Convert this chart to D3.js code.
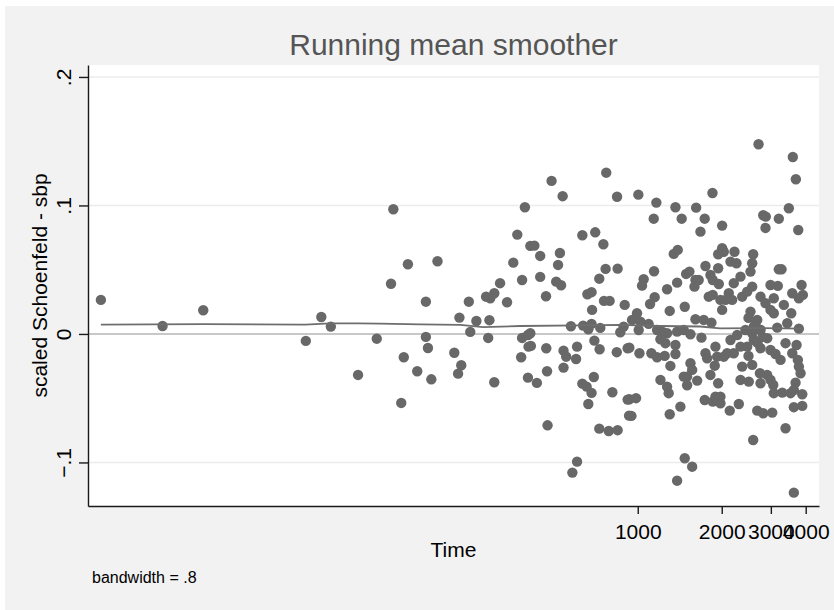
<!DOCTYPE html>
<meta charset="utf-8">
<style>
body { margin: 0; background: #ffffff; }
svg { display: block; font-family: Arial, "Liberation Sans", sans-serif; }
.axis path, .axis line { stroke: #1a1a1a; stroke-width: 1.4px; }
.axis text { font-size: 21px; fill: #000; font-family: Arial, "Liberation Sans", sans-serif; }
</style>
<svg width="834" height="610"></svg>
<script src="https://cdn.jsdelivr.net/npm/d3@7"></script>
<script>

// analysis time (days) and scaled Schoenfeld residuals for sbp
const times = [
  11.9, 19.8, 27.7, 64.6, 73.4, 79.4, 99.4, 116, 133, 130.5,
  150, 191.5, 174, 229.5, 248, 264, 251, 174, 177, 145,
  162, 182, 142, 220, 233, 227, 286, 296, 306, 294,
  321, 340, 291, 306, 370, 358, 385, 394, 412, 385,
  404, 406, 382, 404, 771, 491, 538, 843, 426, 447,
  526, 518, 633, 704, 753, 767, 847, 728, 447, 510,
  531, 469, 660, 683, 686, 757, 793, 898, 576, 637,
  665, 683, 734, 866, 890, 414, 470, 542, 554, 601,
  606, 699, 730, 841, 920, 435, 473, 542, 633, 656,
  683, 696, 665, 811, 920, 931, 475, 728, 787, 847,
  606, 583, 412, 1005, 1853, 1166, 1365, 1619, 1141, 1437,
  1738, 1678, 2007, 1346, 1391, 1144, 1050, 1036, 1491, 1532,
  1610, 1654, 1597, 1749, 1822, 1857, 1952, 1942, 2007, 1942,
  1384, 1274, 1150, 1107, 1797, 1857, 1979, 2007, 1474, 1302,
  994, 954, 1022, 1094, 1008, 1173, 1223, 1274, 1206, 1256,
  1384, 1462, 1545, 1365, 1365, 1610, 1724, 1837, 1692, 933,
  1014, 1119, 1173, 1249, 1309, 1545, 1567, 1503, 1462, 1633,
  1503, 1749, 1773, 1899, 1926, 1888, 1822, 1942, 1206, 1274,
  1291, 933, 986, 949, 1302, 1422, 1738, 1857, 1952, 1899,
  1474, 1567, 1384, 2710, 3597, 3688, 3480, 2817, 2878, 3204,
  2871, 3761, 2034, 2222, 2150, 2259, 2593, 2572, 2536, 3204,
  3277, 2335, 2209, 2120, 2063, 2180, 2368, 2468, 2572, 2992,
  3178, 2755, 2871, 3074, 2992, 3340, 3550, 3074, 3866, 3580,
  3781, 3907, 2536, 2681, 2606, 2755, 3162, 3435, 3781, 2272,
  2150, 2335, 2468, 2572, 2606, 2755, 2911, 2992, 3387, 3709,
  3580, 3118, 3250, 3749, 3781, 2034, 2092, 2209, 2368, 2572,
  2335, 2501, 2741, 2755, 2911, 2992, 3060, 3834, 3679, 3627,
  3074, 3296, 3530, 3888, 1979, 1979, 2137, 2303, 2681, 2817,
  3035, 3627, 3888, 3387, 2593, 3627, 2495, 2643, 2800, 2495,
  2687, 2433
];
const residuals = [
  0.0265, 0.0062, 0.0184, -0.0054, 0.0132, 0.0057, -0.0319, -0.0037, 0.0970, 0.0391,
  0.0542, 0.0566, 0.0251, 0.0127, 0.0251, 0.0101, 0.0016, -0.0023, -0.0109, -0.0181,
  -0.0290, -0.0353, -0.0537, -0.0146, -0.0244, -0.0309, 0.0290, 0.0278, 0.0317, 0.0107,
  0.0395, 0.0247, -0.0031, -0.0376, 0.0773, 0.0555, 0.0420, 0.0986, 0.0685, -0.0031,
  -0.0008, -0.0099, -0.0181, -0.0340, 0.1255, 0.1191, 0.1072, 0.1068, 0.0687, 0.0607,
  0.0630, 0.0537, 0.0768, 0.0791, 0.0698, 0.0506, 0.0508, 0.0430, 0.0444, 0.0407,
  0.0379, 0.0293, 0.0309, 0.0325, 0.0187, 0.0257, 0.0257, 0.0226, 0.0060, 0.0065,
  0.0036, 0.0078, 0.0047, 0.0013, 0.0057, -0.0093, -0.0111, -0.0130, -0.0177, -0.0195,
  -0.0099, -0.0052, -0.0119, -0.0142, -0.0111, -0.0381, -0.0290, -0.0262, -0.0387, -0.0410,
  -0.0459, -0.0335, -0.0545, -0.0454, -0.0511, -0.0636, -0.0711, -0.0737, -0.0755, -0.0749,
  -0.0994, -0.1079, 0.0005, 0.1084, 0.1097, 0.1022, 0.0986, 0.0983, 0.0897, 0.0897,
  0.0897, 0.0796, 0.0843, 0.0623, 0.0654, 0.0488, 0.0426, 0.0376, 0.0467, 0.0485,
  0.0420, 0.0420, 0.0368, 0.0529, 0.0459, 0.0420, 0.0389, 0.0620, 0.0667, 0.0511,
  0.0399, 0.0348, 0.0286, 0.0233, 0.0290, 0.0304, 0.0265, 0.0187, 0.0212, 0.0179,
  0.0161, 0.0109, 0.0096, 0.0078, 0.0031, 0.0031, 0.0018, 0.0005, -0.0041, -0.0072,
  0.0018, 0.0031, -0.0002, -0.0086, -0.0156, 0.0114, 0.0109, 0.0088, -0.0029, -0.0107,
  -0.0150, -0.0150, -0.0181, -0.0171, -0.0249, -0.0228, -0.0280, -0.0332, -0.0332, -0.0363,
  -0.0399, -0.0150, -0.0189, -0.0099, -0.0177, -0.0247, -0.0319, -0.0384, -0.0358, -0.0410,
  -0.0461, -0.0508, -0.0500, -0.0638, -0.0625, -0.0566, -0.0514, -0.0527, -0.0514, -0.0488,
  -0.0967, -0.1033, -0.1142, 0.1476, 0.1377, 0.1204, 0.0978, 0.0924, 0.0913, 0.0897,
  0.0825, 0.0809, 0.0640, 0.0640, 0.0563, 0.0550, 0.0620, 0.0550, 0.0485, 0.0503,
  0.0503, 0.0446, 0.0395, 0.0317, 0.0265, 0.0265, 0.0290, 0.0329, 0.0368, 0.0381,
  0.0374, 0.0290, 0.0239, 0.0278, 0.0187, 0.0226, 0.0161, 0.0161, 0.0381, 0.0317,
  0.0278, 0.0304, 0.0174, 0.0109, 0.0057, 0.0031, 0.0049, 0.0083, 0.0041, -0.0008,
  -0.0047, -0.0099, -0.0099, 0.0005, -0.0047, -0.0111, -0.0033, -0.0125, -0.0072, -0.0086,
  -0.0150, -0.0156, -0.0202, -0.0202, -0.0254, -0.0177, -0.0150, -0.0150, -0.0254, -0.0241,
  -0.0358, -0.0371, -0.0306, -0.0384, -0.0319, -0.0358, -0.0397, -0.0306, -0.0379, -0.0436,
  -0.0461, -0.0457, -0.0461, -0.0469, -0.0488, -0.0539, -0.0597, -0.0545, -0.0597, -0.0617,
  -0.0612, -0.0570, -0.0560, -0.0734, -0.0825, -0.1235, 0.0125, 0.0070, -0.0023, -0.0171,
  -0.0070, 0.0031
];

// running mean smoother (bandwidth .8)
const smoothTimes = [11.9, 27.7, 64.3, 79, 99, 119, 166, 231, 279, 379, 622, 864, 1202, 1672, 1972, 2744, 3915];
const smoothValues = [0.0073, 0.0076, 0.0073, 0.0082, 0.0083, 0.0080, 0.0075, 0.0070, 0.0053, 0.0062, 0.0067, 0.0070, 0.0062, 0.0058, 0.0044, 0.0045, 0.0042];

const xTicks = [1000, 2000, 3000, 4000];
const yTicks = [-0.1, 0, 0.1, 0.2];

const plot = {left: 88, right: 819, top: 65, bottom: 506};
const markerColor = "#686868";

const svg = d3.select("svg");

// graph region and plot region
svg.append("rect")
    .attr("x", 5).attr("y", 6)
    .attr("width", 829).attr("height", 604)
    .attr("fill", "#f2f2f2");
svg.append("rect")
    .attr("x", plot.left).attr("y", plot.top)
    .attr("width", plot.right - plot.left)
    .attr("height", plot.bottom - plot.top)
    .attr("fill", "#ffffff");

const x = d3.scaleLog().domain([10.7, 4464]).range([plot.left, plot.right]);
const y = d3.scaleLinear().domain([-0.1339, 0.2093]).range([plot.bottom, plot.top]);

// horizontal grid
svg.append("g").selectAll("line")
  .data(yTicks.filter(function(d) { return d !== 0; }))
  .enter().append("line")
    .attr("x1", plot.left).attr("x2", plot.right)
    .attr("y1", function(d) { return y(d); })
    .attr("y2", function(d) { return y(d); })
    .attr("stroke", "#ececec")
    .attr("stroke-width", 1.5);

// reference line at zero
svg.append("line")
    .attr("x1", plot.left).attr("x2", plot.right)
    .attr("y1", y(0)).attr("y2", y(0))
    .attr("stroke", "#c8c8c8")
    .attr("stroke-width", 2);

// residuals
svg.append("g").selectAll("circle")
  .data(times.map(function(t, i) { return {t: t, v: residuals[i]}; }))
  .enter().append("circle")
    .attr("cx", function(d) { return x(d.t); })
    .attr("cy", function(d) { return y(d.v); })
    .attr("r", 5.2)
    .attr("fill", markerColor);

// smoother
const line = d3.line()
    .x(function(d) { return x(d[0]); })
    .y(function(d) { return y(d[1]); });
svg.append("path")
    .datum(smoothTimes.map(function(t, i) { return [t, smoothValues[i]]; }))
    .attr("d", line)
    .attr("fill", "none")
    .attr("stroke", "#6e6e6e")
    .attr("stroke-width", 1.8);

// axes
svg.append("g")
    .attr("class", "axis")
    .attr("transform", "translate(0," + plot.bottom + ")")
    .call(d3.axisBottom(x)
      .tickValues(xTicks)
      .tickFormat(d3.format("d"))
      .tickSize(8)
      .tickSizeOuter(0)
      .tickPadding(10));

function stataNum(v) {
  if (v === 0) return "0";
  return d3.format(".1f")(v).replace("0.", ".");
}

const yAxis = svg.append("g")
    .attr("class", "axis")
    .attr("transform", "translate(" + plot.left + ",0)")
    .call(d3.axisLeft(y)
      .tickValues(yTicks)
      .tickFormat(stataNum)
      .tickSize(9)
      .tickSizeOuter(0));

yAxis.selectAll(".tick text")
    .attr("x", null)
    .attr("dy", null)
    .attr("text-anchor", "middle")
    .attr("transform", "translate(-17,0) rotate(-90)");

// titles
svg.append("text")
    .attr("x", (plot.left + plot.right) / 2)
    .attr("y", 55)
    .attr("text-anchor", "middle")
    .attr("font-size", 30)
    .attr("fill", "#555555")
    .text("Running mean smoother");

svg.append("text")
    .attr("transform", "translate(47," + ((plot.top + plot.bottom) / 2) + ") rotate(-90)")
    .attr("text-anchor", "middle")
    .attr("font-size", 21)
    .attr("fill", "#000")
    .text("scaled Schoenfeld - sbp");

svg.append("text")
    .attr("x", (plot.left + plot.right) / 2)
    .attr("y", 557)
    .attr("text-anchor", "middle")
    .attr("font-size", 21)
    .attr("fill", "#000")
    .text("Time");

svg.append("text")
    .attr("x", 92)
    .attr("y", 583)
    .attr("font-size", 16)
    .attr("fill", "#000")
    .text("bandwidth = .8");

</script>
